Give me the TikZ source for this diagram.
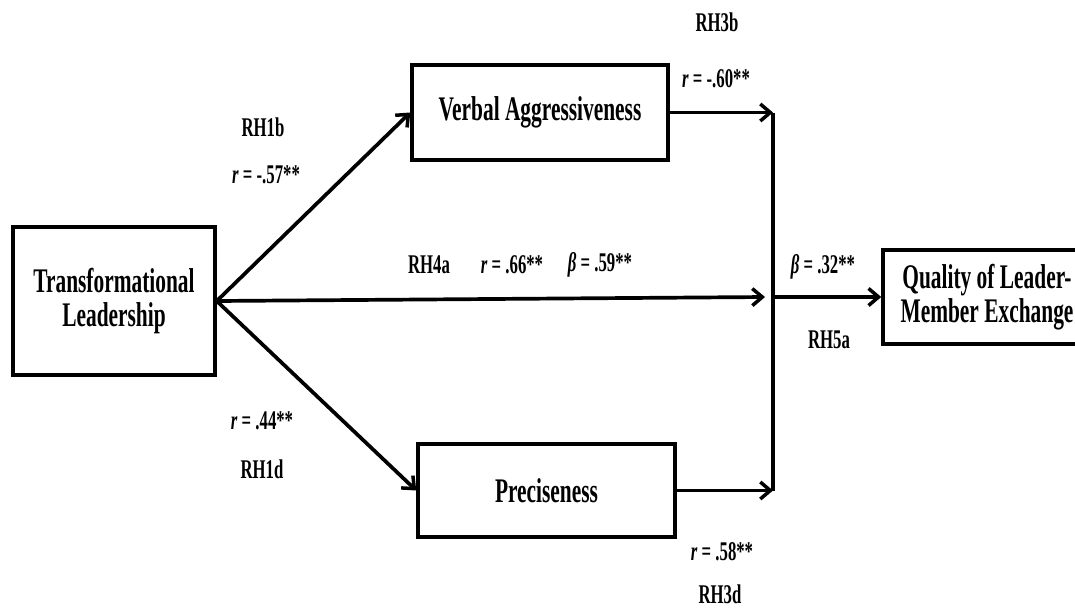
\documentclass[tikz,border=0pt]{standalone}
\usepackage{fontspec}
\setmainfont{Liberation Serif}[FakeStretch=0.62]
\usepackage{tikz}
\usetikzlibrary{arrows.meta, positioning}

\begin{document}
\begin{tikzpicture}[
  x=1pt, y=-1pt,
  varbox/.style={rectangle, draw=black, line width=3.5pt, fill=white,
               align=center, inner sep=0pt,
               font=\fontsize{34.5}{34}\selectfont\bfseries},
  arrow/.style={-{Straight Barb[length=10pt, width=17pt, line width=3.5pt]},
               line width=3.7pt, color=black},
  link/.style={line width=3.7pt, color=black},
  note/.style={font=\fontsize{27}{28}\selectfont\bfseries, inner sep=0pt},
]
\path[use as bounding box, clip] (0,0) rectangle (1075,608);

% variables
\node[varbox, minimum width=202pt, minimum height=148pt] (tl) at (114,301)
  {Transformational\\Leadership};
\node[varbox, minimum width=256pt, minimum height=95pt] (va) at (540,112.5)
  {Verbal Aggressiveness};
\node[varbox, minimum width=257pt, minimum height=93pt] (pr) at (546.5,490.5)
  {Preciseness};
\node[varbox, minimum width=208pt, minimum height=94pt] (lmx) at (987,297)
  {Quality of Leader-\\Member Exchange};

% junction line
\coordinate (jt) at (773,112.5);
\coordinate (jb) at (773,490.5);
\coordinate (jm) at (773,297);
\coordinate (md) at (765,297);

\draw[arrow] (tl.east) -- (va.west);
\draw[arrow] (tl.east) -- (pr.west);
\draw[arrow] (tl.east) -- (md);
\draw[arrow] (va.east) -- (jt);
\draw[arrow] (pr.east) -- (jb);
\draw[link] (jt) -- (jb);
\draw[arrow] (jm) -- (lmx.west);

% path labels
\node[note] (h3b) at (717,22)  {RH3b};
\node[note] (r3b) at (716,79)  {\textit{r} = -.60**};
\node[note] (h1b) at (263,127) {RH1b};
\node[note] (r1b) at (266,175) {\textit{r} = -.57**};
\node[note] (h4a) at (429,265) {RH4a};
\node[note] (r4a) at (512,265) {\textit{r} = .66**};
\node[note] (b4a) at (600,265) {\textit{β} = .59**};
\node[note] (b5a) at (823,267) {\textit{β} = .32**};
\node[note] (h5a) at (829,340) {RH5a};
\node[note] (r1d) at (262,421) {\textit{r} = .44**};
\node[note] (h1d) at (262,469) {RH1d};
\node[note] (r3d) at (722,552) {\textit{r} = .58**};
\node[note] (h3d) at (720,594) {RH3d};
\end{tikzpicture}
\end{document}
